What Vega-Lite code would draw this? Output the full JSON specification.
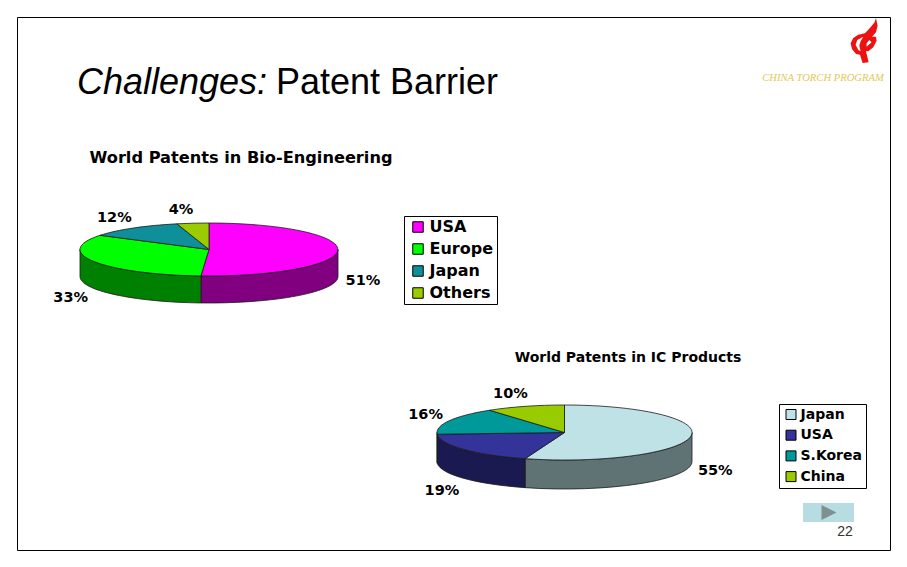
{
  "$schema": "https://vega.github.io/schema/vega-lite/v6.json",
  "width": 873,
  "height": 533,
  "padding": 17,
  "autosize": "none",
  "background": "#ffffff",
  "config": {"view": {"stroke": "#000000", "strokeWidth": 1}},
  "data": {"values": [
    {"chart": "Bio", "label": "USA", "share": 51},
    {"chart": "Bio", "label": "Europe", "share": 33},
    {"chart": "Bio", "label": "Japan", "share": 12},
    {"chart": "Bio", "label": "Others", "share": 4},
    {"chart": "IC", "label": "Japan", "share": 55},
    {"chart": "IC", "label": "USA", "share": 19},
    {"chart": "IC", "label": "S.Korea", "share": 16},
    {"chart": "IC", "label": "China", "share": 10}
  ]},
  "transform": [
    {"window": [{"op": "sum", "field": "share", "as": "cum"}], "groupby": ["chart"]},
    {"calculate": "datum.chart == 'Bio' ? 129 : 127.5", "as": "rx"},
    {"calculate": "datum.chart == 'Bio' ? 26.5 : 27.5", "as": "ry"},
    {"calculate": "datum.chart == 'Bio' ? 27 : 29", "as": "dp"},
    {"calculate": "(datum.cum - datum.share) / 50 * PI", "as": "a0"},
    {"calculate": "datum.cum / 50 * PI", "as": "a1"},
    {"calculate": "round(datum.rx * sin(datum.a0) * 100) / 100 + ',' + round(-datum.ry * cos(datum.a0) * 100) / 100", "as": "p0"},
    {"calculate": "round(datum.rx * sin(datum.a1) * 100) / 100 + ',' + round(-datum.ry * cos(datum.a1) * 100) / 100", "as": "p1"},
    {"calculate": "'M0,0L' + datum.p0 + 'A' + datum.rx + ',' + datum.ry + ' 0 ' + (datum.a1 - datum.a0 > PI ? 1 : 0) + ' 1 ' + datum.p1 + 'Z'", "as": "top"},
    {"calculate": "max(datum.a0, PI / 2)", "as": "s0"},
    {"calculate": "min(datum.a1, 3 * PI / 2)", "as": "s1"},
    {"calculate": "round(datum.rx * sin(datum.s0) * 100) / 100", "as": "x0"},
    {"calculate": "round(datum.rx * sin(datum.s1) * 100) / 100", "as": "x1"},
    {"calculate": "round(-datum.ry * cos(datum.s0) * 100) / 100", "as": "y0"},
    {"calculate": "round(-datum.ry * cos(datum.s1) * 100) / 100", "as": "y1"},
    {"calculate": "'M' + datum.x0 + ',' + datum.y0 + 'A' + datum.rx + ',' + datum.ry + ' 0 0 1 ' + datum.x1 + ',' + datum.y1 + 'L' + datum.x1 + ',' + (datum.y1 + datum.dp) + 'A' + datum.rx + ',' + datum.ry + ' 0 0 0 ' + datum.x0 + ',' + (datum.y0 + datum.dp) + 'Z'", "as": "side"},
    {"calculate": "(datum.a0 + datum.a1) / 2", "as": "mid"},
    {"calculate": "sin(datum.mid) * (datum.rx + 15) + (sin(datum.mid) > 0 ? 10 : -10)", "as": "lx"},
    {"calculate": "cos(datum.mid) < 0 ? datum.dp + 3 - cos(datum.mid) * (datum.ry + 15) : -cos(datum.mid) * (datum.ry + 13)", "as": "ly"},
    {"calculate": "datum.share + '%'", "as": "pct"}
  ],
  "layer": [
    {
      "transform": [{"filter": "datum.chart == 'Bio' && datum.s0 < datum.s1"}],
      "mark": {"type": "point", "filled": true, "opacity": 1, "size": 4, "stroke": "#1a1a1a", "strokeWidth": 0.8},
      "encoding": {
        "x": {"field": "chart", "type": "nominal", "axis": null, "scale": {"type": "point", "domain": ["Bio", "IC"], "range": [192, 547.5], "padding": 0}},
        "y": {"field": "chart", "type": "nominal", "axis": null, "scale": {"type": "point", "domain": ["Bio", "IC"], "range": [232.5, 415.5], "padding": 0}},
        "shape": {"field": "side", "type": "nominal", "scale": null, "legend": null},
        "color": {"field": "label", "type": "nominal", "legend": null, "scale": {"domain": ["USA", "Europe", "Japan", "Others"], "range": ["#800080", "#008000", "#004d4d", "#4d6600"]}}
      }
    },
    {
      "transform": [{"filter": "datum.chart == 'Bio'"}],
      "mark": {"type": "point", "filled": true, "opacity": 1, "size": 4, "stroke": "#1a1a1a", "strokeWidth": 0.8},
      "encoding": {
        "x": {"field": "chart", "type": "nominal", "axis": null, "scale": {"type": "point", "domain": ["Bio", "IC"], "range": [192, 547.5], "padding": 0}},
        "y": {"field": "chart", "type": "nominal", "axis": null, "scale": {"type": "point", "domain": ["Bio", "IC"], "range": [232.5, 415.5], "padding": 0}},
        "shape": {"field": "top", "type": "nominal", "scale": null, "legend": null},
        "color": {
          "field": "label", "type": "nominal",
          "scale": {"domain": ["USA", "Europe", "Japan", "Others"], "range": ["#ff00ff", "#00ff00", "#0f8f9a", "#9acc00"]},
          "legend": {"orient": "none", "legendX": 387, "legendY": 199, "title": null, "symbolType": "square", "symbolSize": 110, "symbolStrokeColor": "#000000", "symbolStrokeWidth": 1, "symbolOffset": 3, "labelOffset": 3.5, "labelFont": "DejaVu Sans", "labelFontWeight": "bold", "labelFontSize": 16, "labelColor": "#000000", "rowPadding": 6, "padding": 3, "strokeColor": "#000000", "fillColor": "#ffffff"}
        }
      }
    },
    {
      "transform": [{"filter": "datum.chart == 'IC' && datum.s0 < datum.s1"}],
      "mark": {"type": "point", "filled": true, "opacity": 1, "size": 4, "stroke": "#1a1a1a", "strokeWidth": 0.8},
      "encoding": {
        "x": {"field": "chart", "type": "nominal", "axis": null, "scale": {"type": "point", "domain": ["Bio", "IC"], "range": [192, 547.5], "padding": 0}},
        "y": {"field": "chart", "type": "nominal", "axis": null, "scale": {"type": "point", "domain": ["Bio", "IC"], "range": [232.5, 415.5], "padding": 0}},
        "shape": {"field": "side", "type": "nominal", "scale": null, "legend": null},
        "color": {"field": "label", "type": "nominal", "legend": null, "scale": {"domain": ["Japan", "USA", "S.Korea", "China"], "range": ["#5f7375", "#1a1a50", "#1a1a50", "#4d6600"]}}
      }
    },
    {
      "transform": [{"filter": "datum.chart == 'IC'"}],
      "mark": {"type": "point", "filled": true, "opacity": 1, "size": 4, "stroke": "#1a1a1a", "strokeWidth": 0.8},
      "encoding": {
        "x": {"field": "chart", "type": "nominal", "axis": null, "scale": {"type": "point", "domain": ["Bio", "IC"], "range": [192, 547.5], "padding": 0}},
        "y": {"field": "chart", "type": "nominal", "axis": null, "scale": {"type": "point", "domain": ["Bio", "IC"], "range": [232.5, 415.5], "padding": 0}},
        "shape": {"field": "top", "type": "nominal", "scale": null, "legend": null},
        "color": {
          "field": "label", "type": "nominal",
          "scale": {"domain": ["Japan", "USA", "S.Korea", "China"], "range": ["#bfe2e6", "#333399", "#009999", "#99cc00"]},
          "legend": {"orient": "none", "legendX": 762, "legendY": 387, "title": null, "symbolType": "square", "symbolSize": 100, "symbolStrokeColor": "#000000", "symbolStrokeWidth": 1, "symbolOffset": 1.5, "labelOffset": 2.5, "labelFont": "DejaVu Sans", "labelFontWeight": "bold", "labelFontSize": 14, "labelColor": "#000000", "rowPadding": 6.7, "padding": 3.5, "strokeColor": "#000000", "fillColor": "#ffffff"}
        }
      }
    },
    {
      "mark": {"type": "text", "font": "DejaVu Sans", "fontWeight": "bold", "fontSize": 14.5, "color": "#000000", "align": "center", "baseline": "middle"},
      "encoding": {
        "x": {"field": "chart", "type": "nominal", "axis": null, "scale": {"type": "point", "domain": ["Bio", "IC"], "range": [192, 547.5], "padding": 0}},
        "y": {"field": "chart", "type": "nominal", "axis": null, "scale": {"type": "point", "domain": ["Bio", "IC"], "range": [232.5, 415.5], "padding": 0}},
        "xOffset": {"field": "lx", "type": "quantitative", "scale": null},
        "yOffset": {"field": "ly", "type": "quantitative", "scale": null},
        "text": {"field": "pct", "type": "nominal"}
      }
    },
    {
      "data": {"values": [{"chart": "Bio", "title": "World Patents in Bio-Engineering"}]},
      "mark": {"type": "text", "font": "DejaVu Sans", "fontWeight": "bold", "fontSize": 16.2, "color": "#000000", "align": "center", "baseline": "middle"},
      "encoding": {
        "x": {"field": "chart", "type": "nominal", "axis": null, "scale": {"type": "point", "domain": ["Bio"], "range": [224, 224], "padding": 0}},
        "y": {"field": "chart", "type": "nominal", "axis": null, "scale": {"type": "point", "domain": ["Bio"], "range": [141, 141], "padding": 0}},
        "text": {"field": "title", "type": "nominal"}
      }
    },
    {
      "data": {"values": [{"chart": "IC", "title": "World Patents in IC Products"}]},
      "mark": {"type": "text", "font": "DejaVu Sans", "fontWeight": "bold", "fontSize": 14, "color": "#000000", "align": "center", "baseline": "middle"},
      "encoding": {
        "x": {"field": "chart", "type": "nominal", "axis": null, "scale": {"type": "point", "domain": ["IC"], "range": [611, 611], "padding": 0}},
        "y": {"field": "chart", "type": "nominal", "axis": null, "scale": {"type": "point", "domain": ["IC"], "range": [341, 341], "padding": 0}},
        "text": {"field": "title", "type": "nominal"}
      }
    },
    {
      "data": {"values": [{"part": "Challenges:"}]},
      "mark": {"type": "text", "font": "Liberation Sans", "fontStyle": "italic", "fontSize": 36, "color": "#000000", "align": "left", "baseline": "alphabetic"},
      "encoding": {
        "x": {"field": "part", "type": "nominal", "axis": null, "scale": {"type": "point", "domain": ["Challenges:"], "range": [60, 60], "padding": 0}},
        "y": {"field": "part", "type": "nominal", "axis": null, "scale": {"type": "point", "domain": ["Challenges:"], "range": [77, 77], "padding": 0}},
        "text": {"field": "part", "type": "nominal"}
      }
    },
    {
      "data": {"values": [{"part": "Patent Barrier"}]},
      "mark": {"type": "text", "font": "Liberation Sans", "fontSize": 36, "color": "#000000", "align": "left", "baseline": "alphabetic"},
      "encoding": {
        "x": {"field": "part", "type": "nominal", "axis": null, "scale": {"type": "point", "domain": ["Patent Barrier"], "range": [259, 259], "padding": 0}},
        "y": {"field": "part", "type": "nominal", "axis": null, "scale": {"type": "point", "domain": ["Patent Barrier"], "range": [77, 77], "padding": 0}},
        "text": {"field": "part", "type": "nominal"}
      }
    },
    {
      "data": {"values": [{"part": "CHINA TORCH PROGRAM"}]},
      "mark": {"type": "text", "font": "Liberation Serif", "fontStyle": "italic", "fontSize": 10.6, "color": "#e0c95a", "align": "center", "baseline": "middle"},
      "encoding": {
        "x": {"field": "part", "type": "nominal", "axis": null, "scale": {"type": "point", "domain": ["CHINA TORCH PROGRAM"], "range": [806, 806], "padding": 0}},
        "y": {"field": "part", "type": "nominal", "axis": null, "scale": {"type": "point", "domain": ["CHINA TORCH PROGRAM"], "range": [61, 61], "padding": 0}},
        "text": {"field": "part", "type": "nominal"}
      }
    },
    {
      "data": {"values": [{"part": "logo"}]},
      "mark": {"type": "point", "filled": true, "opacity": 1, "size": 4, "color": "#ee1111", "shape": "M12.7,-22L14.3,-14.3L12.7,-7.7L8.7,-3.3L12.7,-3.3L13.3,0.7L10,7.3L5,11.3L2.7,11.3L5.3,22.3L-0.7,23L-3.3,14.7L-7.3,14L-11.3,9L-12.7,3.3L-10,-2L-5,-5.3L1.7,-6.7L7.3,-12.7L11.3,-17.7ZM0,-3.3L-6,0L-7.7,4.7L-5,10L-2.7,11.3L-4,5.7L-2.7,1.3ZM6,0L3.3,3.3L3.3,6.7L8.3,2.3Z"},
      "encoding": {
        "x": {"field": "part", "type": "nominal", "axis": null, "scale": {"type": "point", "domain": ["logo"], "range": [846.3, 846.3], "padding": 0}},
        "y": {"field": "part", "type": "nominal", "axis": null, "scale": {"type": "point", "domain": ["logo"], "range": [23, 23], "padding": 0}}
      }
    },
    {
      "data": {"values": [{"part": "button"}]},
      "mark": {"type": "point", "filled": true, "opacity": 1, "size": 4, "color": "#b7dde3", "shape": "M-25.5,-9.5L25.5,-9.5L25.5,9.5L-25.5,9.5Z"},
      "encoding": {
        "x": {"field": "part", "type": "nominal", "axis": null, "scale": {"type": "point", "domain": ["button"], "range": [811.5, 811.5], "padding": 0}},
        "y": {"field": "part", "type": "nominal", "axis": null, "scale": {"type": "point", "domain": ["button"], "range": [495.5, 495.5], "padding": 0}}
      }
    },
    {
      "data": {"values": [{"part": "arrow"}]},
      "mark": {"type": "point", "filled": true, "opacity": 1, "size": 4, "color": "#7f9091", "shape": "M-7,-7.5L8,0L-7,7.5Z"},
      "encoding": {
        "x": {"field": "part", "type": "nominal", "axis": null, "scale": {"type": "point", "domain": ["arrow"], "range": [811.5, 811.5], "padding": 0}},
        "y": {"field": "part", "type": "nominal", "axis": null, "scale": {"type": "point", "domain": ["arrow"], "range": [495.5, 495.5], "padding": 0}}
      }
    },
    {
      "data": {"values": [{"part": "22"}]},
      "mark": {"type": "text", "font": "Liberation Sans", "fontSize": 14, "color": "#333333", "align": "center", "baseline": "middle"},
      "encoding": {
        "x": {"field": "part", "type": "nominal", "axis": null, "scale": {"type": "point", "domain": ["22"], "range": [828, 828], "padding": 0}},
        "y": {"field": "part", "type": "nominal", "axis": null, "scale": {"type": "point", "domain": ["22"], "range": [515, 515], "padding": 0}},
        "text": {"field": "part", "type": "nominal"}
      }
    }
  ],
  "resolve": {"scale": {"x": "independent", "y": "independent", "color": "independent"}}
}
